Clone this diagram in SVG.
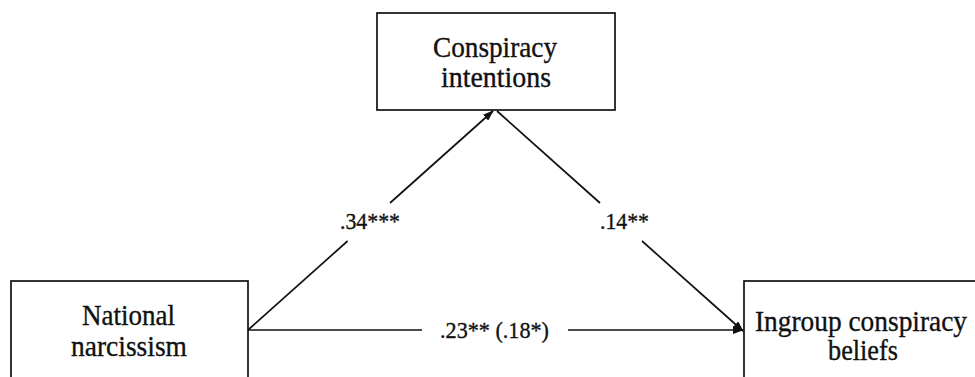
<svg xmlns="http://www.w3.org/2000/svg" width="975" height="377" viewBox="0 0 975 377">
<style>
.box{fill:#fff;stroke:#111;stroke-width:1.7}
.t{font-family:"Liberation Serif","Times New Roman",serif;font-size:29px;fill:#111;stroke:#111;stroke-width:0.35;text-anchor:middle}
.l{font-family:"Liberation Serif","Times New Roman",serif;font-size:24px;fill:#111;stroke:#111;stroke-width:0.35;text-anchor:middle}
.c{stroke:#111;stroke-width:1.7;fill:none}
</style>
<defs>
<marker id="ah" markerUnits="userSpaceOnUse" markerWidth="11" markerHeight="8" refX="10" refY="4" orient="auto">
<path d="M0,0 L11,4 L0,8 z" fill="#111"/>
</marker>
</defs>
<rect width="975" height="377" fill="#fff"/>
<g id="connectors">
<line class="c" x1="248" y1="330" x2="347.6" y2="241"/>
<line class="c" x1="390" y1="203" x2="493" y2="111" marker-end="url(#ah)"/>
<line class="c" x1="497" y1="111" x2="600" y2="203"/>
<line class="c" x1="642" y1="241" x2="743" y2="331" marker-end="url(#ah)"/>
<line class="c" x1="248" y1="330" x2="422" y2="330"/>
<line class="c" x1="568" y1="330" x2="743" y2="330" marker-end="url(#ah)"/>
<text class="l" x="370" y="229" textLength="60" lengthAdjust="spacingAndGlyphs">.34***</text>
<text class="l" x="624.5" y="229" textLength="49" lengthAdjust="spacingAndGlyphs">.14**</text>
<text class="l" x="494.5" y="338" textLength="109" lengthAdjust="spacingAndGlyphs">.23** (.18*)</text>
</g>
<g id="conspiracy-intentions">
<rect class="box" x="377" y="13" width="238" height="97"/>
<text class="t" x="495" y="57" textLength="124" lengthAdjust="spacingAndGlyphs">Conspiracy</text>
<text class="t" x="496" y="87" textLength="110" lengthAdjust="spacingAndGlyphs">intentions</text>
</g>
<g id="national-narcissism">
<rect class="box" x="11" y="281" width="237" height="110"/>
<text class="t" x="128.5" y="325" textLength="93" lengthAdjust="spacingAndGlyphs">National</text>
<text class="t" x="129" y="356" textLength="116" lengthAdjust="spacingAndGlyphs">narcissism</text>
</g>
<g id="ingroup-conspiracy-beliefs">
<rect class="box" x="744" y="281" width="237" height="110"/>
<text class="t" x="861" y="331" textLength="212" lengthAdjust="spacingAndGlyphs">Ingroup conspiracy</text>
<text class="t" x="863" y="360" textLength="70" lengthAdjust="spacingAndGlyphs">beliefs</text>
</g>
</svg>
